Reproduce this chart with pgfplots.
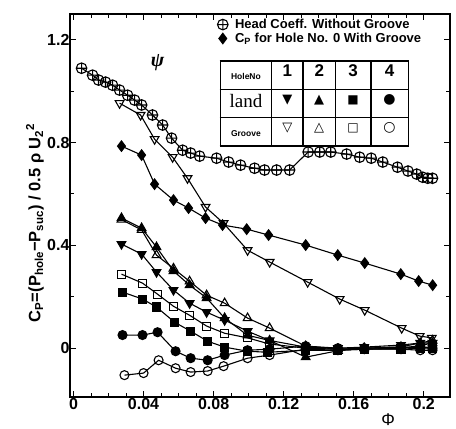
\documentclass[border=0pt]{standalone}
\usepackage{pgfplots}
\pgfplotsset{compat=1.18}
\usepackage{fontspec}
\usepackage{array}
\setmainfont{Liberation Sans}
\newfontfamily\serif{Liberation Serif}
\newfontfamily\sym{DejaVu Sans}
\newcolumntype{C}[1]{>{\centering\arraybackslash}m{#1}}

\begin{document}
\begin{tikzpicture}
\begin{axis}[
    width=380pt, height=383pt, scale only axis,
    xmin=-0.002, xmax=0.215, ymin=-0.19, ymax=1.30,
    xtick={0,0.04,0.08,0.12,0.16,0.2},
    xticklabels={0,0.04,0.08,0.12,0.16,0.2},
    ytick={0,0.4,0.8,1.2},
    yticklabels={0,0.4,0.8,1.2},
    minor x tick num=3, minor y tick num=1,
    tick align=inside,
    major tick length=6pt, minor tick length=4pt,
    every tick/.style={black, line width=1pt},
    axis line style={line width=1.3pt},
    /pgf/number format/assume math mode=true,
    ticklabel style={font=\bfseries\fontsize{16}{16}\selectfont},
    yticklabel style={xshift=3pt},
    xticklabel style={yshift=2pt},
    xlabel={\fontsize{17}{17}\selectfont Φ},
    xlabel style={at={(rel axis cs:0.837,0)}, anchor=north, yshift=-13pt},
    ylabel={\bfseries\fontsize{16.5}{16.5}\selectfont C\textsubscript{P}=(P\textsubscript{hole}−P\textsubscript{suc}) / 0.5 ρ U\textsubscript{2}\textsuperscript{2}},
    ylabel style={at={(rel axis cs:-0.092,0.455)}, anchor=center},
    clip=false,
    every axis plot/.append style={black, line width=1.1pt},
    legend style={at={(rel axis cs:0.385,0.995)}, anchor=north west, draw=none, fill=none,
        font=\bfseries\fontsize{13}{13}\selectfont, row sep=-1pt, inner sep=1pt,
        /tikz/every odd column/.append style={column sep=5pt}},
    legend cell align=left,
    legend image post style={only marks},
]
% Head coefficient without groove
\addplot[mark=oplus, mark size=5.3pt, mark options={solid, fill=white, line width=1.1pt}] coordinates {
(0.0046,1.089) (0.0109,1.062) (0.0143,1.043) (0.0183,1.035) (0.0223,1.023)
(0.0263,1.004) (0.0309,0.984) (0.0349,0.965) (0.0389,0.946) (0.0451,0.907)
(0.0509,0.868) (0.0560,0.817) (0.0623,0.770) (0.0669,0.759) (0.0720,0.747)
(0.0817,0.739) (0.0886,0.724) (0.0954,0.712) (0.1034,0.700) (0.1091,0.693)
(0.1160,0.693) (0.1234,0.693) (0.1340,0.763) (0.1406,0.763) (0.1469,0.763)
(0.1560,0.755) (0.1634,0.743) (0.1700,0.739) (0.1766,0.724) (0.1850,0.704)
(0.1910,0.689) (0.1960,0.677) (0.1994,0.665) (0.2023,0.661) (0.2050,0.661)
};
\addlegendentry{Head Coeff. Without Groove}
% Cp hole 0 with groove
\addplot[mark=diamond*, mark size=5.2pt, mark options={solid}] coordinates {
(0.0274,0.786) (0.0389,0.751) (0.0463,0.638) (0.0571,0.576) (0.0657,0.545)
(0.0754,0.506) (0.0851,0.479) (0.0989,0.463) (0.1114,0.440) (0.1326,0.401)
(0.1509,0.362) (0.1663,0.331) (0.1869,0.288) (0.1971,0.261) (0.2051,0.245)
};
\addlegendentry{C\textsubscript{P} for Hole No. 0 With Groove}
% Groove, hole 1 (open down triangle)
\addplot[forget plot, mark=triangle, mark size=5pt, mark options={solid, rotate=180, fill=white, line width=1.1pt}] coordinates {
(0.0263,0.953) (0.0383,0.907) (0.0463,0.813) (0.0566,0.743) (0.0651,0.661)
(0.0754,0.549) (0.0857,0.486) (0.0994,0.381) (0.1120,0.335) (0.1337,0.257)
(0.1520,0.191) (0.1663,0.148) (0.1874,0.078) (0.1977,0.047) (0.2046,0.040)
};
% Groove, hole 2 (open up triangle)
\addplot[forget plot, mark=triangle, mark size=5pt, mark options={solid, fill=white, line width=1.1pt}] coordinates {
(0.0274,0.500) (0.0389,0.460) (0.0474,0.362) (0.0571,0.310) (0.0663,0.260)
(0.0760,0.206) (0.0863,0.175) (0.0994,0.117) (0.1120,0.078) (0.1326,0.008)
(0.1510,-0.004) (0.1660,0.000) (0.1870,0.005) (0.1980,0.020) (0.2050,0.030)
};
% Groove, hole 3 (open square)
\addplot[forget plot, mark=square, mark size=4pt, mark options={solid, fill=white, line width=1.1pt}] coordinates {
(0.0274,0.288) (0.0394,0.253) (0.0480,0.210) (0.0571,0.163) (0.0663,0.128)
(0.0760,0.086) (0.0863,0.058) (0.0994,0.040) (0.1120,0.016) (0.1326,0.000)
(0.1510,-0.004) (0.1660,-0.004) (0.1870,0.000) (0.1980,0.004) (0.2050,0.004)
};
% Groove, hole 4 (open circle)
\addplot[forget plot, mark=o, mark size=4.5pt, mark options={solid, fill=white, line width=1.1pt}] coordinates {
(0.0291,-0.105) (0.0400,-0.097) (0.0486,-0.047) (0.0583,-0.078) (0.0669,-0.093)
(0.0766,-0.089) (0.0857,-0.070) (0.0994,-0.039) (0.1120,-0.027) (0.1326,-0.004)
(0.1510,-0.008) (0.1660,-0.004) (0.1870,-0.004) (0.1980,-0.008) (0.2050,-0.008)
};
% Land, hole 1 (filled down triangle)
\addplot[forget plot, mark=triangle*, mark size=5pt, mark options={solid, rotate=180}] coordinates {
(0.0274,0.405) (0.0389,0.366) (0.0474,0.296) (0.0571,0.226) (0.0663,0.175)
(0.0760,0.140) (0.0863,0.109) (0.0994,0.066) (0.1120,0.030) (0.1326,0.004)
(0.1510,0.000) (0.1660,0.004) (0.1870,0.012) (0.1980,0.020) (0.2050,0.020)
};
% Land, hole 2 (filled up triangle)
\addplot[forget plot, mark=triangle*, mark size=5pt, mark options={solid}] coordinates {
(0.0274,0.506) (0.0389,0.467) (0.0474,0.393) (0.0571,0.300) (0.0663,0.245)
(0.0760,0.195) (0.0863,0.117) (0.0994,0.050) (0.1120,0.030) (0.1326,-0.035)
(0.1510,-0.010) (0.1660,0.000) (0.1870,0.000) (0.1980,0.010) (0.2050,0.020)
};
% Land, hole 3 (filled square)
\addplot[forget plot, mark=square*, mark size=4pt, mark options={solid}] coordinates {
(0.0280,0.218) (0.0394,0.191) (0.0474,0.160) (0.0577,0.101) (0.0669,0.066)
(0.0766,0.027) (0.0863,0.004) (0.0994,-0.012) (0.1110,-0.016) (0.1326,-0.008)
(0.1510,-0.008) (0.1660,-0.004) (0.1870,-0.004) (0.1980,0.000) (0.2050,0.000)
};
% Land, hole 4 (filled circle)
\addplot[forget plot, mark=*, mark size=4.5pt, mark options={solid}] coordinates {
(0.0280,0.051) (0.0394,0.051) (0.0480,0.062) (0.0583,-0.012) (0.0669,-0.039)
(0.0766,-0.047) (0.0863,-0.027) (0.0994,-0.008) (0.1120,-0.004) (0.1326,0.008)
(0.1510,0.000) (0.1660,0.000) (0.1870,0.004) (0.1980,0.004) (0.2050,0.000)
};
\node[font=\serif\bfseries\itshape\fontsize{20}{20}\selectfont] at (axis cs:0.048,1.11) {ψ};
\node[anchor=north west, inner sep=0pt, fill=white] at (rel axis cs:0.393,0.88) {%
  \setlength\arrayrulewidth{1.4pt}\setlength\tabcolsep{0pt}%
  \begin{tabular}{|C{50pt}|C{30pt}|C{31pt}|C{34pt}|C{36pt}|}
  \hline
  \rule[-9pt]{0pt}{27pt}\bfseries\fontsize{8.5}{9}\selectfont HoleNo &
  \bfseries\fontsize{17}{17}\selectfont 1 & \bfseries\fontsize{17}{17}\selectfont 2 &
  \bfseries\fontsize{17}{17}\selectfont 3 & \bfseries\fontsize{17}{17}\selectfont 4 \\ \hline
  \rule[-9pt]{0pt}{27pt}\serif\fontsize{19}{19}\selectfont land &
  \sym\bfseries\fontsize{13}{13}\selectfont ▼ & \sym\bfseries\fontsize{13}{13}\selectfont ▲ &
  \sym\bfseries\fontsize{12}{12}\selectfont ■ & \sym\bfseries\fontsize{14}{14}\selectfont ● \\ \hline
  \rule[-9pt]{0pt}{27pt}\bfseries\fontsize{8.5}{9}\selectfont Groove &
  \sym\bfseries\fontsize{13}{13}\selectfont ▽ & \sym\bfseries\fontsize{13}{13}\selectfont △ &
  \sym\bfseries\fontsize{12}{12}\selectfont □ & \sym\bfseries\fontsize{14}{14}\selectfont ○ \\ \hline
  \end{tabular}};
\coordinate (SW) at (rel axis cs:0,0);
\coordinate (NE) at (rel axis cs:1,1);
\end{axis}
\path ([shift={(-70pt,-27pt)}]SW) rectangle ([shift={(6pt,14pt)}]NE);
\end{tikzpicture}
\end{document}
